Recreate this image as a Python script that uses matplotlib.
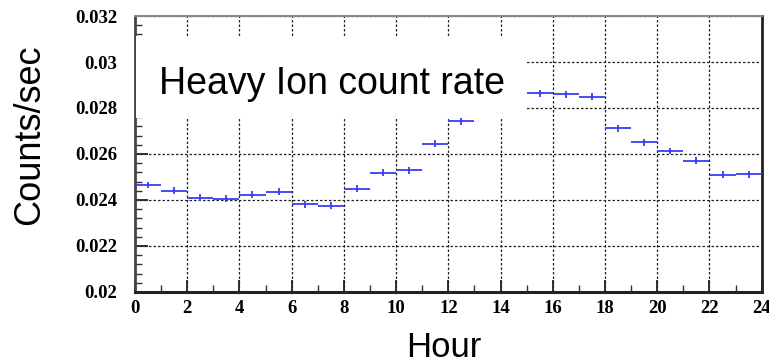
import numpy as np
import matplotlib
matplotlib.use("Agg")
import matplotlib.pyplot as plt
from matplotlib.patches import Rectangle
from matplotlib.ticker import MultipleLocator

# hourly count rate (bin centres at half hours)
hours = np.arange(24) + 0.5
rate = [0.02465, 0.02441, 0.02410, 0.02406, 0.02422, 0.02436,
        0.02381, 0.02374, 0.02448, 0.02519, 0.02529, 0.02645,
        0.02743, 0.02820, 0.02855, 0.02864, 0.02860, 0.02849,
        0.02712, 0.02651, 0.02613, 0.02570, 0.02509, 0.02512]
rate_err = [0.00015] * 24
hour_err = [0.5] * 24

x_ticks = list(range(0, 25, 2))
y_ticks = [0.02, 0.022, 0.024, 0.026, 0.028, 0.03, 0.032]
y_tick_labels = ["0.02", "0.022", "0.024", "0.026", "0.028", "0.03", "0.032"]

fig = plt.figure(figsize=(7.69, 3.64), dpi=100)
ax = fig.add_axes([0.1755, 0.198, 0.815, 0.758])

ax.errorbar(hours, rate, xerr=hour_err, yerr=rate_err, fmt='none',
            ecolor='#3b3bf5', elinewidth=1.3, capsize=0, zorder=3)

ax.set_xlim(0, 24)
ax.set_ylim(0.02, 0.032)
ax.set_xticks(x_ticks)
ax.set_xticklabels([str(t) for t in x_ticks])
ax.set_yticks(y_ticks)
ax.set_yticklabels(y_tick_labels)
ax.xaxis.set_minor_locator(MultipleLocator(1))
ax.yaxis.set_minor_locator(MultipleLocator(0.0004))

ax.grid(True, which='major', color='#222222', linestyle=(0, (2, 1.6)), linewidth=0.9)
ax.set_axisbelow(True)

ax.tick_params(axis='both', which='major', direction='in', length=9, width=1.3,
               top=False, right=False, labelsize=13.5, colors='#222222')
ax.tick_params(axis='x', which='major', pad=6)
ax.tick_params(axis='y', which='major', pad=13)
ax.tick_params(axis='both', which='minor', direction='in', length=5, width=1.0,
               top=False, right=False, colors='#333333')
for lab in ax.get_xticklabels() + ax.get_yticklabels():
    lab.set_fontfamily('Liberation Serif')
    lab.set_fontweight('bold')
    lab.set_color('black')

ax.spines['left'].set_linewidth(2.0)
ax.spines['left'].set_color('#444444')
ax.spines['bottom'].set_linewidth(2.2)
ax.spines['bottom'].set_color('#222222')
ax.spines['right'].set_linewidth(2.0)
ax.spines['right'].set_color('#222222')
ax.spines['top'].set_linewidth(1.5)
ax.spines['top'].set_color('#888888')

ax.set_xlabel("Hour", fontsize=25, family='Liberation Sans')
ax.set_ylabel("Counts/sec", fontsize=26, family='Liberation Sans')
ax.xaxis.set_label_coords(0.493, -0.14)
ax.yaxis.set_label_coords(-0.14, 0.57)

# white label box pasted over the plot
ax.add_patch(Rectangle((0.05, 0.02757), 14.95, 0.00356, facecolor='white',
                       edgecolor='none', zorder=5))
ax.text(7.55, 0.02905, "Heavy Ion count rate", fontsize=27, family='Liberation Sans',
        ha='center', va='center', zorder=6)

fig.savefig("out.png", dpi=100)
